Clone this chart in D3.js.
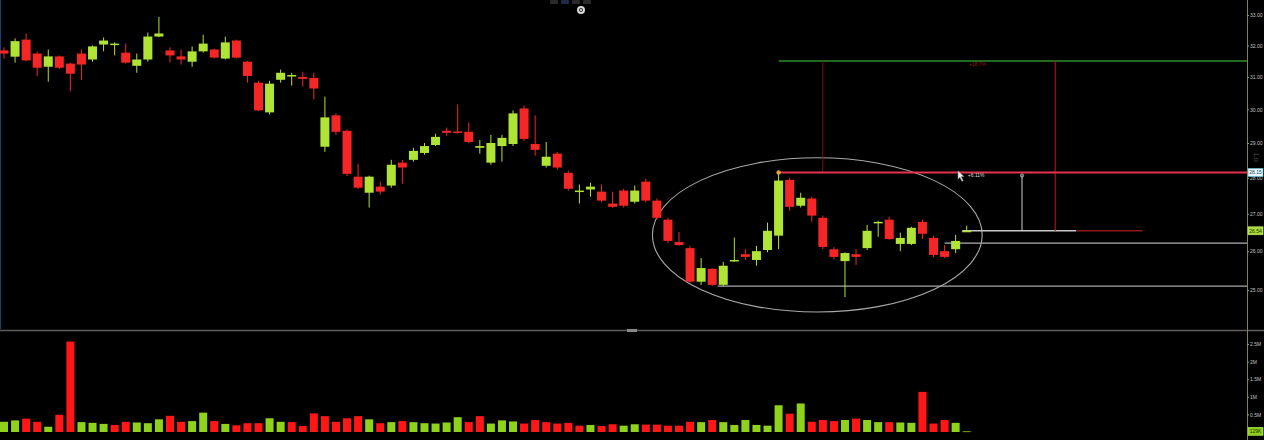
<!DOCTYPE html>
<html><head><meta charset="utf-8">
<script src="https://cdn.jsdelivr.net/npm/d3@7"></script>
<style>html,body{margin:0;padding:0;background:#000;overflow:hidden}svg{display:block}</style>
</head><body><svg id="c" width="1264" height="440"></svg>
<script>
// ---- data ----
const opens=[31.84,31.64,32.19,31.74,31.32,31.65,31.42,31.74,31.55,32.03,32.03,31.77,31.35,31.55,32.29,31.84,31.65,31.48,31.81,31.87,31.58,32.16,31.48,30.82,29.91,30.91,31.03,31.00,30.97,28.89,29.82,29.36,28.03,27.58,27.75,27.78,28.43,28.51,28.71,28.94,29.36,29.34,29.33,28.86,28.43,28.91,28.97,30.03,28.97,28.34,28.69,28.14,27.61,27.67,27.61,27.28,27.64,27.33,27.89,27.36,26.84,26.24,26.08,25.21,25.54,25.13,25.74,25.92,25.77,26.03,26.41,27.94,27.22,27.42,26.89,26.05,25.74,25.92,26.08,26.76,26.84,26.19,26.19,26.78,26.35,26.00,26.05,26.51];
const highs=[31.94,32.23,32.39,31.80,31.87,31.68,31.45,31.87,32.00,32.26,32.10,32.06,31.74,32.42,32.94,31.94,31.87,31.97,32.35,31.90,32.29,32.19,31.50,30.88,30.88,31.23,31.13,31.16,31.13,30.39,29.88,29.40,28.40,28.06,27.89,28.51,28.51,28.86,29.00,29.27,29.45,30.15,29.61,29.09,29.24,29.24,29.97,30.12,29.82,29.03,28.74,28.20,27.81,27.86,27.81,27.61,27.69,27.78,27.97,27.42,26.89,26.51,26.14,25.82,25.56,25.72,26.36,26.05,26.14,26.76,28.15,28.00,27.58,27.47,26.95,26.11,25.97,26.05,26.70,26.81,26.92,26.49,26.65,26.84,26.41,26.16,26.43,26.68];
const lows=[31.58,31.45,31.50,31.03,30.85,31.25,30.55,30.91,31.48,31.81,31.68,31.42,31.13,31.48,32.27,31.45,31.39,31.32,31.77,31.58,31.55,31.58,30.82,29.95,29.85,30.82,30.73,30.70,30.30,28.74,29.24,28.05,27.68,27.17,27.53,27.72,27.83,28.46,28.66,28.91,29.21,29.28,29.00,28.69,28.37,28.46,28.91,29.06,28.63,28.29,28.23,27.64,27.28,27.47,27.31,27.17,27.17,27.28,27.31,26.84,26.22,26.14,25.18,25.13,25.10,25.10,25.72,25.77,25.62,25.97,26.05,27.08,27.17,26.78,26.05,25.79,24.82,25.64,26.03,26.38,26.30,26.00,26.16,26.32,25.85,25.82,25.95,26.51];
const closes=[31.74,32.14,31.52,31.29,31.65,31.29,31.10,31.39,31.97,32.16,32.06,31.45,31.55,32.29,32.39,31.68,31.55,31.81,32.06,31.61,32.10,31.61,31.03,29.97,30.79,31.13,31.06,30.94,30.64,29.76,29.33,28.11,27.72,28.03,27.61,28.37,28.29,28.77,28.91,29.18,29.30,29.32,29.03,28.91,29.00,29.15,29.88,29.12,28.80,28.60,28.29,27.69,27.64,27.75,27.36,27.19,27.22,27.64,27.36,26.89,26.27,26.16,25.21,25.56,25.13,25.62,25.77,25.85,26.00,26.54,27.92,27.19,27.44,26.95,26.11,25.85,25.95,25.85,26.54,26.78,26.32,26.35,26.62,26.46,25.90,25.85,26.27,26.54];
const volumesM=[0.29,0.33,0.38,0.29,0.15,0.49,2.57,0.28,0.26,0.23,0.20,0.29,0.27,0.25,0.36,0.46,0.29,0.31,0.55,0.31,0.23,0.19,0.25,0.25,0.39,0.29,0.28,0.17,0.53,0.45,0.29,0.39,0.45,0.36,0.25,0.28,0.31,0.28,0.25,0.24,0.27,0.42,0.28,0.45,0.24,0.33,0.30,0.24,0.34,0.28,0.24,0.26,0.18,0.20,0.17,0.22,0.18,0.22,0.21,0.21,0.18,0.18,0.29,0.28,0.34,0.28,0.20,0.34,0.20,0.18,0.76,0.52,0.81,0.29,0.34,0.31,0.34,0.38,0.34,0.28,0.28,0.27,0.26,1.14,0.24,0.34,0.26,0.02];
const priceTicks=[25,26,27,28,29,30,31,32,33];
const volumeTicks=[0.5,1,1.5,2,2.5];
const volumeLastLabel="129K";
// drawn levels (prices) and their bar positions
const resistanceLevel=28.15, targetLevel=31.50, currentPrice=26.54, supportA=26.21, supportB=25.10;
const ellipseBars=[58.6,88.4], ellipsePrices=[28.57,24.45];
const targetPctLabel="+18.7%", movePctLabel="+6.11%";

// ---- scales ----
const svg=d3.select("#c");
const axisX=1247;
const x=d3.scaleLinear().domain([0,87]).range([4,966.7]);
const y=d3.scaleLog().domain([25,33]).range([290,15]);
const yv=d3.scaleLinear().domain([0,2.5]).range([432,344]);

const GREEN="#afe335", RED="#f42626", VGREEN="#8fd21c", VRED="#ff1717";
const AXF="Liberation Sans";
const idx=d3.range(opens.length);

svg.append("rect").attr("width",1264).attr("height",440).attr("fill","#000");

const defs=svg.append("defs");
defs.append("clipPath").attr("id","pc").append("rect").attr("x",0).attr("y",0).attr("width",axisX).attr("height",329);
defs.append("clipPath").attr("id","vc").append("rect").attr("x",0).attr("y",332).attr("width",axisX).attr("height",108);

svg.append("line").attr("x1",0.5).attr("x2",0.5).attr("y1",0).attr("y2",329).attr("stroke","#1d3c78").attr("stroke-width",1);

const price=svg.append("g").attr("clip-path","url(#pc)");

// ellipse annotation
const ecx=(x(ellipseBars[0])+x(ellipseBars[1]))/2, erx=(x(ellipseBars[1])-x(ellipseBars[0]))/2;
const ecy=(y(ellipsePrices[0])+y(ellipsePrices[1]))/2, ery=(y(ellipsePrices[1])-y(ellipsePrices[0]))/2;
price.append("ellipse").attr("cx",ecx).attr("cy",ecy).attr("rx",erx).attr("ry",ery)
  .attr("fill","none").attr("stroke","#a9a9a9").attr("stroke-width",1.1);

// horizontal level lines
price.append("line").attr("x1",x(64.5)).attr("x2",axisX).attr("y1",y(supportB)).attr("y2",y(supportB)).attr("stroke","#a8a8a8").attr("stroke-width",1.3);
price.append("line").attr("x1",x(85)).attr("x2",axisX).attr("y1",y(supportA)).attr("y2",y(supportA)).attr("stroke","#b0b0b0").attr("stroke-width",1.3);
price.append("line").attr("x1",x(86.6)).attr("x2",x(96.9)).attr("y1",y(currentPrice)).attr("y2",y(currentPrice)).attr("stroke","#c8c8c8").attr("stroke-width",1.5);
price.append("line").attr("x1",x(96.9)).attr("x2",x(102.9)).attr("y1",y(currentPrice)).attr("y2",y(currentPrice)).attr("stroke","#8e1a1a").attr("stroke-width",1.5);
price.append("line").attr("x1",x(70)).attr("x2",axisX).attr("y1",y(targetLevel)).attr("y2",y(targetLevel)).attr("stroke","#2d8f2d").attr("stroke-width",1.5);
price.append("line").attr("x1",x(74)).attr("x2",x(74)).attr("y1",y(targetLevel)).attr("y2",y(resistanceLevel)).attr("stroke","#7d1010").attr("stroke-width",1);
price.append("line").attr("x1",x(95)).attr("x2",x(95)).attr("y1",y(targetLevel)).attr("y2",y(currentPrice)).attr("stroke","#a8121e").attr("stroke-width",1.2);
price.append("line").attr("x1",x(92)).attr("x2",x(92)).attr("y1",y(resistanceLevel)+2).attr("y2",y(currentPrice)).attr("stroke","#cfcfcf").attr("stroke-width",1);
price.append("circle").attr("cx",x(92)).attr("cy",y(resistanceLevel)+3).attr("r",1.6).attr("fill","none").attr("stroke","#cfcfcf").attr("stroke-width",0.8);
price.append("line").attr("x1",x(70)).attr("x2",axisX).attr("y1",y(resistanceLevel)).attr("y2",y(resistanceLevel)).attr("stroke","#e8334f").attr("stroke-width",2);

// candles
const cg=price.append("g");
cg.selectAll("line.w").data(idx).join("line").attr("class","w")
  .attr("x1",i=>x(i)).attr("x2",i=>x(i))
  .attr("y1",i=>y(highs[i])).attr("y2",i=>y(lows[i]))
  .attr("stroke",i=>closes[i]>=opens[i]?GREEN:RED).attr("stroke-width",1);
const bw=9;
cg.selectAll("rect.b").data(idx).join("rect").attr("class","b")
  .attr("x",i=>x(i)-bw/2).attr("width",bw)
  .attr("y",i=>y(Math.max(opens[i],closes[i])))
  .attr("height",i=>Math.max(1.5,y(Math.min(opens[i],closes[i]))-y(Math.max(opens[i],closes[i]))))
  .attr("fill",i=>closes[i]>=opens[i]?GREEN:RED);

price.append("circle").attr("cx",x(70)).attr("cy",y(resistanceLevel)).attr("r",2.2).attr("fill","#e2a43a");

// texts & cursor
price.append("text").attr("x",x(87.2)).attr("y",y(targetLevel)+5).attr("fill","#9a1414").attr("font-family",AXF).attr("font-size",5).text(targetPctLabel);
price.append("text").attr("x",x(87.1)).attr("y",y(resistanceLevel)+5).attr("fill","#d8d8d8").attr("font-family",AXF).attr("font-size",5).text(movePctLabel);
price.append("path").attr("d",`M${x(86.2)},${y(resistanceLevel)-2} l0,9 l2,-2 l2,4 l1.5,-0.8 l-2,-4 l3,0 z`)
  .attr("fill","#eee").attr("stroke","#333").attr("stroke-width",0.4);

// panel separator
svg.append("line").attr("x1",0).attr("x2",1264).attr("y1",330.5).attr("y2",330.5).attr("stroke","#5e5e5e").attr("stroke-width",1.6);
svg.append("rect").attr("x",627).attr("y",329).attr("width",10).attr("height",3).attr("fill","#888");

// volume bars
const vg=svg.append("g").attr("clip-path","url(#vc)");
const vw=8;
vg.selectAll("rect").data(idx).join("rect")
  .attr("x",i=>x(i)-vw/2).attr("width",vw)
  .attr("y",i=>yv(volumesM[i])).attr("height",i=>Math.max(0.8,yv(0)-yv(volumesM[i])))
  .attr("fill",i=>(i===0||closes[i]>=closes[i-1])?VGREEN:VRED);

// right axis line
svg.append("line").attr("x1",axisX+0.5).attr("x2",axisX+0.5).attr("y1",0).attr("y2",440).attr("stroke","#85843c").attr("stroke-width",1);

// price axis
const pa=svg.append("g").attr("transform",`translate(${axisX},0)`)
  .call(d3.axisRight(y).tickValues(priceTicks).tickFormat(d3.format(".2f")).tickSize(2).tickPadding(1));
pa.select(".domain").remove();
pa.selectAll(".tick line").attr("stroke","#9a9a55");
pa.selectAll(".tick text").attr("fill","#c4c4c4").attr("font-family",AXF).attr("font-size",5);

// volume axis
const va=svg.append("g").attr("transform",`translate(${axisX},0)`)
  .call(d3.axisRight(yv).tickValues(volumeTicks).tickFormat(d=>d+"M").tickSize(2).tickPadding(1));
va.select(".domain").remove();
va.selectAll(".tick line").attr("stroke","#9a9a55");
va.selectAll(".tick text").attr("fill","#c4c4c4").attr("font-family",AXF).attr("font-size",5);

// price flags on axis
function flag(yy,txt,fill,stroke,tc){
  const g=svg.append("g");
  g.append("rect").attr("x",axisX+1).attr("y",yy-4).attr("width",15).attr("height",8).attr("fill",fill).attr("stroke",stroke).attr("stroke-width",0.6);
  g.append("text").attr("x",axisX+8.5).attr("y",yy+2).attr("text-anchor","middle").attr("fill",tc).attr("font-family",AXF).attr("font-size",5).text(txt);
}
flag(y(resistanceLevel),d3.format(".2f")(resistanceLevel),"#e4f6fb","#5bc0de","#1c4b66");
flag(y(currentPrice),d3.format(".2f")(currentPrice),"#a9dc3a","#c8f060","#1d2c00");
flag(yv(volumesM[volumesM.length-1]),volumeLastLabel,"#8fd21c","#b0ec50","#1d2c00");

svg.append("text").attr("transform","translate(1254,153) rotate(90)").attr("fill","#4c4c4c").attr("font-family",AXF).attr("font-size",8).text("Lo");

// tiny toolbar at top
const tb=svg.append("g");
[550,561,572,583].forEach((xx,k)=>tb.append("rect").attr("x",xx).attr("y",0).attr("width",8).attr("height",4).attr("rx",1).attr("fill",k===1?"#1f2c44":"#2a2a2a"));
tb.append("circle").attr("cx",581).attr("cy",10).attr("r",4).attr("fill","#d8d8d8");
tb.append("circle").attr("cx",581).attr("cy",10).attr("r",1.6).attr("fill","none").attr("stroke","#333").attr("stroke-width",1);
</script></body></html>
